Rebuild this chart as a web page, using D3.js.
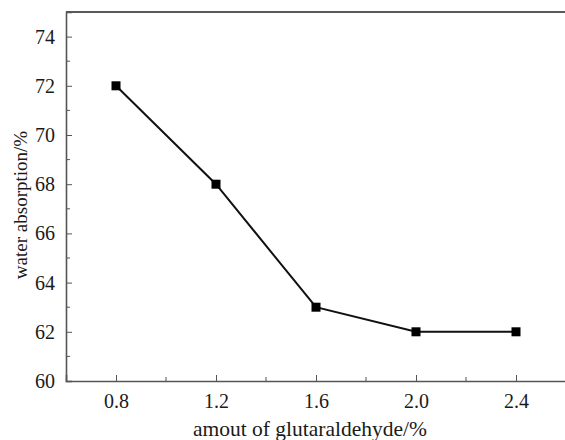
<!DOCTYPE html>
<html>
<head>
<meta charset="utf-8">
<script src="https://cdn.jsdelivr.net/npm/d3@7"></script>
<style>
  body { margin: 0; background: #fff; }
</style>
</head>
<body>
<div id="chart"></div>
<script>
const width = 565;
const height = 440;
const serif = "'Liberation Serif', 'Times New Roman', serif";

// data
const amount = [0.8, 1.2, 1.6, 2.0, 2.4];
const absorption = [72, 68, 63, 62, 62];
const xTicks = [0.8, 1.2, 1.6, 2.0, 2.4];
const xMinor = [1.0, 1.4, 1.8, 2.2];
const yTicks = [60, 62, 64, 66, 68, 70, 72, 74];
const yMinor = [61, 63, 65, 67, 69, 71, 73];

const margin = { left: 66, top: 12, right: -1, bottom: 59 };

const x = d3.scaleLinear().domain([0.6, 2.6]).range([margin.left, width - margin.right]);
const y = d3.scaleLinear().domain([60, 75]).range([height - margin.bottom, margin.top]);

const svg = d3.select("#chart")
  .append("svg")
  .attr("width", width)
  .attr("height", height);

const axisColor = "#555";
const textColor = "#1a1a1a";

// top frame line
svg.append("line")
  .attr("x1", x(0.6)).attr("x2", x(2.6))
  .attr("y1", y(75)).attr("y2", y(75))
  .attr("stroke", "#222")
  .attr("stroke-width", 1.5);

// x axis (ticks pointing inward)
const xAxis = svg.append("g")
  .attr("transform", `translate(0,${y(60)})`)
  .call(d3.axisBottom(x).tickValues(xTicks).tickSize(-6).tickPadding(13).tickFormat(d3.format(".1f")));
xAxis.append("g")
  .selectAll("line")
  .data(xMinor)
  .enter()
  .append("line")
  .attr("x1", d => x(d)).attr("x2", d => x(d))
  .attr("y1", 0).attr("y2", -4)
  .attr("stroke", axisColor);

// y axis
const yAxis = svg.append("g")
  .attr("transform", `translate(${x(0.6)},0)`)
  .call(d3.axisLeft(y).tickValues(yTicks).tickSize(-6).tickPadding(11));
yAxis.append("g")
  .selectAll("line")
  .data(yMinor)
  .enter()
  .append("line")
  .attr("x1", 0).attr("x2", 4)
  .attr("y1", d => y(d)).attr("y2", d => y(d))
  .attr("stroke", axisColor);

svg.selectAll(".domain").attr("stroke", axisColor).attr("stroke-width", 1.6);
svg.selectAll(".tick line").attr("stroke", axisColor);
xAxis.attr("font-family", serif).attr("font-size", 20);
yAxis.attr("font-family", serif).attr("font-size", 20);
svg.selectAll(".tick text").attr("fill", textColor);

// axis titles
svg.append("text")
  .attr("x", 310)
  .attr("y", 436)
  .attr("text-anchor", "middle")
  .attr("font-family", serif)
  .attr("font-size", 21.5)
  .attr("fill", textColor)
  .text("amout of glutaraldehyde/%");

svg.append("text")
  .attr("transform", `translate(27,205) rotate(-90)`)
  .attr("text-anchor", "middle")
  .attr("font-family", serif)
  .attr("font-size", 19)
  .attr("fill", textColor)
  .text("water absorption/%");

// the series
const points = amount.map((a, i) => ({ a: a, w: absorption[i] }));

svg.append("path")
  .datum(points)
  .attr("fill", "none")
  .attr("stroke", "#111")
  .attr("stroke-width", 2)
  .attr("d", d3.line().x(d => x(d.a)).y(d => y(d.w)));

svg.selectAll(".marker")
  .data(points)
  .enter()
  .append("rect")
  .classed("marker", true)
  .attr("x", d => x(d.a) - 4.5)
  .attr("y", d => y(d.w) - 4.5)
  .attr("width", 9)
  .attr("height", 9)
  .attr("fill", "#000");
</script>
</body>
</html>
